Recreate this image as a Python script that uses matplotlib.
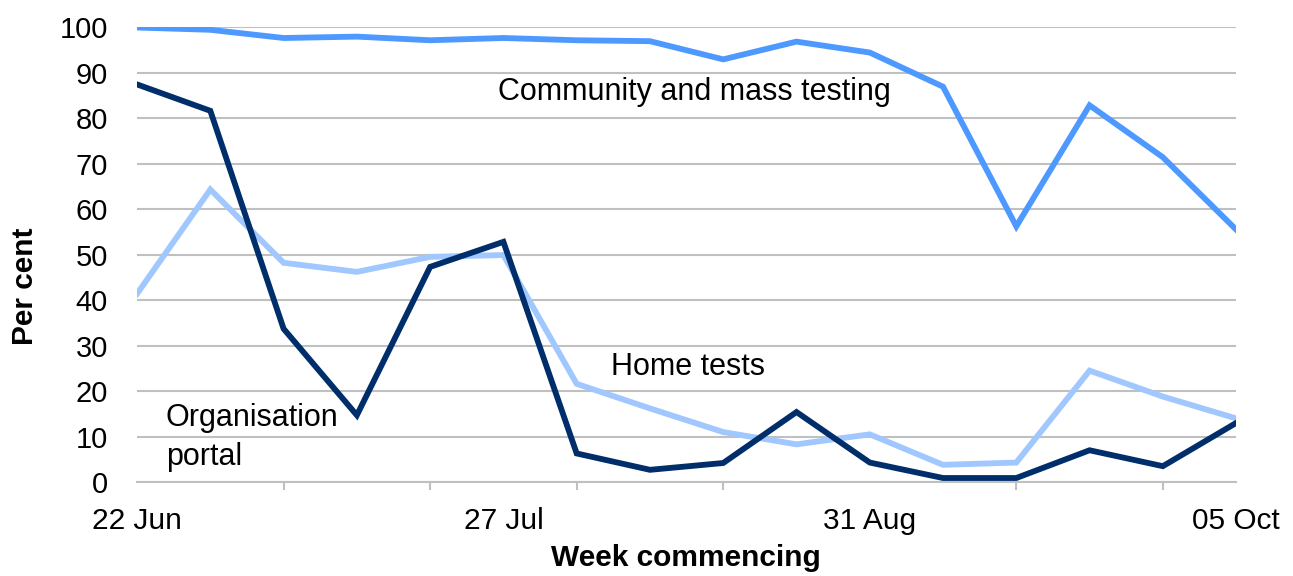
import matplotlib.pyplot as plt
from matplotlib.ticker import FixedLocator

weeks = ["22 Jun", "29 Jun", "06 Jul", "13 Jul", "20 Jul", "27 Jul", "03 Aug",
         "10 Aug", "17 Aug", "24 Aug", "31 Aug", "07 Sep", "14 Sep", "21 Sep",
         "28 Sep", "05 Oct"]
community = [99.9, 99.4, 97.6, 97.9, 97.1, 97.6, 97.1, 96.9, 92.9, 96.8,
             94.4, 86.9, 56.2, 82.8, 71.4, 55.5]
home = [41.4, 64.3, 48.2, 46.2, 49.5, 49.9, 21.6, 16.2, 11.0, 8.3,
        10.5, 3.8, 4.3, 24.5, 18.8, 14.0]
org_portal = [87.4, 81.6, 33.7, 14.7, 47.3, 52.8, 6.3, 2.7, 4.2, 15.4,
              4.3, 0.9, 0.9, 7.0, 3.5, 13.0]

plt.rcParams["font.family"] = ["Liberation Sans", "DejaVu Sans"]
FS = 21.5

fig = plt.figure(figsize=(12.93, 5.76), dpi=100)
ax = fig.add_axes([0.106, 0.163, 0.850, 0.790])

x = list(range(len(weeks)))
ax.plot(x, community, color="#4D99FF", lw=4.2, solid_joinstyle="miter", zorder=3)
ax.plot(x, home, color="#A0C8FF", lw=4.2, solid_joinstyle="miter", zorder=3)
ax.plot(x, org_portal, color="#002E6B", lw=4.2, solid_joinstyle="miter", zorder=4)

ax.set_xlim(0, len(weeks) - 1)
ax.set_ylim(0, 100)
ax.set_yticks(range(0, 101, 10))
ax.yaxis.grid(True, color="#C0C0C0", lw=1.5)
ax.set_axisbelow(True)

# labels every 5 weeks, tick marks every 2 weeks
label_idx = [0, 5, 10, 15]
ax.set_xticks(label_idx)
ax.set_xticklabels([weeks[i] for i in label_idx])
ax.xaxis.set_minor_locator(FixedLocator(list(range(0, len(weeks) - 1, 2))))
ax.tick_params(axis="x", which="major", length=0, pad=18, labelsize=FS)
ax.tick_params(axis="x", which="minor", length=6, width=1.5, color="#C0C0C0")
ax.tick_params(axis="y", length=0, pad=21, labelsize=21)

for side in ["left", "right", "top"]:
    ax.spines[side].set_visible(False)
ax.spines["bottom"].set_color("#C0C0C0")
ax.spines["bottom"].set_linewidth(1.5)

fig.text(25 / 1293, 1 - 286 / 576, "Per cent", fontsize=FS, fontweight="bold",
         rotation=90, ha="center", va="center")
fig.text(686 / 1293, 1 - 558 / 576, "Week commencing", fontsize=FS,
         fontweight="bold", ha="center", va="center")

ax.text(4.93, 85.7, "Community and mass testing", fontsize=22, va="center")
ax.text(6.47, 25.2, "Home tests", fontsize=22, va="center")
ax.text(0.39, 9.8, "Organisation\nportal", fontsize=22, va="center",
        linespacing=1.42)

fig.savefig("out.png", dpi=100)
